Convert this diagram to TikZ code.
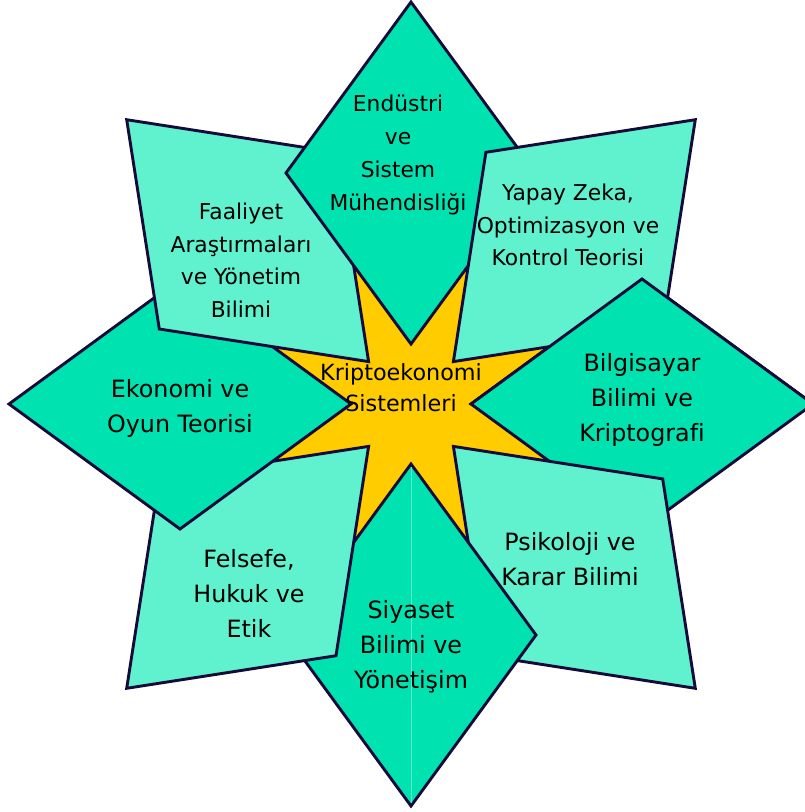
\documentclass[tikz,border=0pt]{standalone}
\usepackage{fontspec}
\setmainfont{DejaVu Sans}[Ligatures={NoCommon}]
\definecolor{dk}{RGB}{0,226,176}
\definecolor{lt}{RGB}{96,242,206}
\definecolor{yl}{RGB}{255,204,0}
\definecolor{ol}{RGB}{22,10,58}
\definecolor{seam}{RGB}{90,236,200}
\tikzset{
  dkshape/.style={fill=dk, draw=ol, line width=2.9pt, line join=miter},
  ltshape/.style={fill=lt, draw=ol, line width=2.9pt, line join=miter},
  lblbig/.style={align=center, inner sep=0pt, text=black, font=\fontsize{23.8}{35}\selectfont},
  lblsmall/.style={align=center, inner sep=0pt, text=black, font=\fontsize{21.8}{32.5}\selectfont},
  lblcenter/.style={align=center, inner sep=0pt, text=black, font=\fontsize{22.3}{31}\selectfont}
}
\begin{document}
\begin{tikzpicture}[x=1pt, y=-1pt]
\useasboundingbox (0,0) rectangle (805,812);
\clip (0,0) rectangle (805,812);
% central star
\fill[yl] (471,404) -- (549.5,461.4) -- (453.4,446.4) -- (468.4,542.5) -- (411,464) -- (353.6,542.5)
  -- (368.6,446.4) -- (272.5,461.4) -- (351,404) -- (272.5,346.6) -- (368.6,361.6) -- (353.6,265.5)
  -- (411,344) -- (468.4,265.5) -- (453.4,361.6) -- (549.5,346.6) -- cycle;
% right
\path[dkshape] (471,404) -- (642,279) -- (813,404) -- (642,529) -- cycle;
% bottom right
\path[ltshape] (453.4,446.4) -- (662.7,478.9) -- (695.3,688.3) -- (485.9,655.7) -- cycle;
% bottom
\path[dkshape] (411,464) -- (536,635) -- (411,806) -- (286,635) -- cycle;
\draw[seam, line width=0.9pt] (411,467) -- (411,803);
% bottom left
\path[ltshape] (368.6,446.4) -- (336.0,655.7) -- (126.7,688.3) -- (159.3,478.9) -- cycle;
% left
\path[dkshape] (351,404) -- (180,529) -- (9,404) -- (180,279) -- cycle;
% top left
\path[ltshape] (368.6,361.6) -- (159.3,329.0) -- (126.7,119.7) -- (336.0,152.3) -- cycle;
% top
\path[dkshape] (411,344) -- (286,173) -- (411,2) -- (536,173) -- cycle;
% top right
\path[ltshape] (453.4,361.6) -- (485.9,152.3) -- (695.3,119.7) -- (662.7,329.0) -- cycle;
% right again, upper half over top right
\begin{scope}
\clip (420,0) rectangle (805,404);
\path[dkshape] (471,404) -- (642,279) -- (813,404) -- (642,529) -- cycle;
\end{scope}
% labels
\node[lblsmall, font=\fontsize{21.8}{32.8}\selectfont] (endustri) at (398,155) {Endüstri\\ve\\Sistem\\Mühendisliği};
\node[lblsmall] (faaliyet) at (241,260) {Faaliyet\\Araştırmaları\\ve Yönetim\\Bilimi};
\node[lblsmall] (yapay) at (568,225) {Yapay Zeka,\\Optimizasyon ve\\Kontrol Teorisi};
\node[lblbig] (ekonomi) at (180,408) {Ekonomi ve\\Oyun Teorisi};
\node[lblcenter] (kripto) at (401,388) {Kriptoekonomi\\Sistemleri};
\node[lblbig] (bilgisayar) at (642,400) {Bilgisayar\\Bilimi ve\\Kriptografi};
\node[lblbig] (psikoloji) at (570,559) {Psikoloji ve\\Karar Bilimi};
\node[lblbig] (siyaset) at (411,647) {Siyaset\\Bilimi ve\\Yönetişim};
\node[lblbig] (felsefe) at (249,593) {Felsefe,\\Hukuk ve\\Etik};
\end{tikzpicture}
\end{document}
